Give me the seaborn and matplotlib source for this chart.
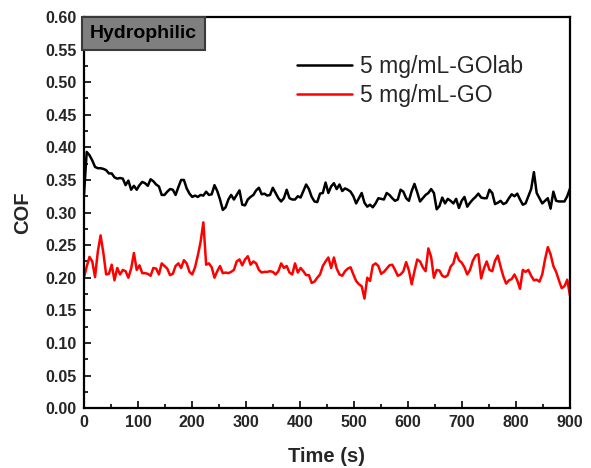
import numpy as np
import pandas as pd
import seaborn as sns
import matplotlib.pyplot as plt
from matplotlib.ticker import MultipleLocator, FormatStrFormatter

# COF readings, one every ~5 s over 0-900 s
golab_cof = [
    0.325, 0.393, 0.388, 0.380, 0.370, 0.368, 0.368, 0.367, 0.365, 0.360,
    0.360, 0.354, 0.352, 0.353, 0.352, 0.342, 0.349, 0.335, 0.341, 0.335,
    0.342, 0.347, 0.345, 0.341, 0.351, 0.348, 0.343, 0.340, 0.327, 0.327,
    0.332, 0.336, 0.335, 0.327, 0.339, 0.350, 0.350, 0.337, 0.329, 0.324,
    0.326, 0.324, 0.327, 0.326, 0.332, 0.327, 0.328, 0.342, 0.333, 0.320,
    0.304, 0.308, 0.320, 0.327, 0.320, 0.327, 0.334, 0.312, 0.311, 0.320,
    0.324, 0.327, 0.334, 0.338, 0.328, 0.329, 0.326, 0.327, 0.338, 0.330,
    0.322, 0.317, 0.322, 0.335, 0.322, 0.320, 0.320, 0.325, 0.323, 0.333,
    0.343, 0.336, 0.324, 0.317, 0.316, 0.329, 0.330, 0.346, 0.330, 0.340,
    0.345, 0.336, 0.343, 0.333, 0.337, 0.335, 0.332, 0.325, 0.314, 0.322,
    0.330, 0.315, 0.309, 0.312, 0.308, 0.314, 0.322, 0.321, 0.320, 0.330,
    0.327, 0.322, 0.318, 0.320, 0.335, 0.332, 0.322, 0.318, 0.333, 0.344,
    0.331, 0.317, 0.322, 0.327, 0.330, 0.336, 0.330, 0.305, 0.310, 0.323,
    0.314, 0.321, 0.318, 0.314, 0.321, 0.307, 0.318, 0.324, 0.309, 0.315,
    0.320, 0.324, 0.329, 0.323, 0.322, 0.322, 0.335, 0.330, 0.313, 0.315,
    0.318, 0.313, 0.315, 0.322, 0.328, 0.325, 0.329, 0.320, 0.312, 0.314,
    0.325, 0.336, 0.362, 0.330, 0.322, 0.314, 0.318, 0.322, 0.306, 0.332,
    0.318, 0.317, 0.317, 0.317, 0.325, 0.337,
]
go_cof = [
    0.200, 0.217, 0.232, 0.225, 0.201, 0.240, 0.265, 0.238, 0.205, 0.206,
    0.220, 0.196, 0.215, 0.205, 0.212, 0.210, 0.200, 0.214, 0.238, 0.212,
    0.219, 0.207, 0.207, 0.206, 0.203, 0.215, 0.214, 0.205, 0.222, 0.218,
    0.214, 0.204, 0.206, 0.218, 0.222, 0.215, 0.227, 0.222, 0.209, 0.205,
    0.216, 0.234, 0.255, 0.285, 0.220, 0.222, 0.216, 0.200, 0.210, 0.218,
    0.207, 0.208, 0.207, 0.209, 0.212, 0.225, 0.228, 0.219, 0.228, 0.233,
    0.220, 0.225, 0.222, 0.212, 0.208, 0.209, 0.209, 0.210, 0.209, 0.205,
    0.210, 0.222, 0.215, 0.218, 0.208, 0.205, 0.222, 0.208, 0.215, 0.210,
    0.204, 0.204, 0.192, 0.194, 0.200, 0.205, 0.218, 0.225, 0.231, 0.215,
    0.231, 0.214, 0.205, 0.203, 0.210, 0.214, 0.216, 0.205, 0.195, 0.190,
    0.187, 0.168, 0.200, 0.195, 0.219, 0.222, 0.218, 0.206, 0.209, 0.214,
    0.219, 0.220, 0.212, 0.203, 0.205, 0.210, 0.224, 0.211, 0.190, 0.210,
    0.228, 0.225, 0.216, 0.210, 0.245, 0.232, 0.200, 0.212, 0.211, 0.203,
    0.201, 0.204, 0.217, 0.222, 0.238, 0.227, 0.223, 0.216, 0.205, 0.212,
    0.226, 0.234, 0.236, 0.199, 0.214, 0.225, 0.212, 0.210, 0.226, 0.234,
    0.217, 0.202, 0.191, 0.196, 0.198, 0.205, 0.196, 0.183, 0.212, 0.209,
    0.212, 0.203, 0.196, 0.197, 0.194, 0.205, 0.228, 0.247, 0.236, 0.218,
    0.209, 0.196, 0.184, 0.187, 0.197, 0.172,
]
time_s = np.linspace(0, 900, len(golab_cof))
labels = ["5 mg/mL-GOlab", "5 mg/mL-GO"]

df = pd.concat([
    pd.DataFrame({"Time": time_s, "COF": golab_cof, "Sample": labels[0]}),
    pd.DataFrame({"Time": time_s, "COF": go_cof, "Sample": labels[1]}),
])

sns.set_style("ticks")
plt.rcParams['font.family'] = ['Liberation Sans', 'DejaVu Sans']

fig = plt.figure(figsize=(5.91, 4.68), dpi=100)
ax = fig.add_axes([0.142, 0.128, 0.8225, 0.8357])

sns.lineplot(data=df, x="Time", y="COF", hue="Sample", palette=["black", "red"],
             estimator=None, linewidth=1.8, ax=ax)

ax.set_xlim(0, 900)
ax.set_ylim(0, 0.60)
ax.xaxis.set_major_locator(MultipleLocator(100))
ax.xaxis.set_minor_locator(MultipleLocator(50))
ax.yaxis.set_major_locator(MultipleLocator(0.05))
ax.yaxis.set_minor_locator(MultipleLocator(0.025))
ax.yaxis.set_major_formatter(FormatStrFormatter('%.2f'))

for s in ax.spines.values():
    s.set_linewidth(1.6)
    s.set_color('black')
ax.tick_params(which='both', direction='in', top=False, right=False, width=1.4)
ax.tick_params(which='major', length=5, labelsize=11.5, pad=5)
ax.tick_params(which='minor', length=3)
for lab in ax.get_xticklabels() + ax.get_yticklabels():
    lab.set_fontweight('bold')

ax.set_xlabel("Time (s)", fontsize=14.5, fontweight='bold', labelpad=12)
ax.set_ylabel("COF", fontsize=14.5, fontweight='bold', labelpad=10)

ax.text(0.013, 0.98, "Hydrophilic", transform=ax.transAxes, ha='left', va='top',
        fontsize=14, fontweight='bold', color='black',
        bbox=dict(boxstyle='square,pad=0.4', facecolor='#7f7f7f',
                  edgecolor='#3a3a3a', linewidth=1.5))

ax.legend(loc='upper left', bbox_to_anchor=(0.438, 0.903), frameon=False,
          fontsize=16.5, handlelength=2.4, handletextpad=0.36, labelspacing=0.26,
          borderpad=0, borderaxespad=0)

fig.savefig("out.png", dpi=100)
